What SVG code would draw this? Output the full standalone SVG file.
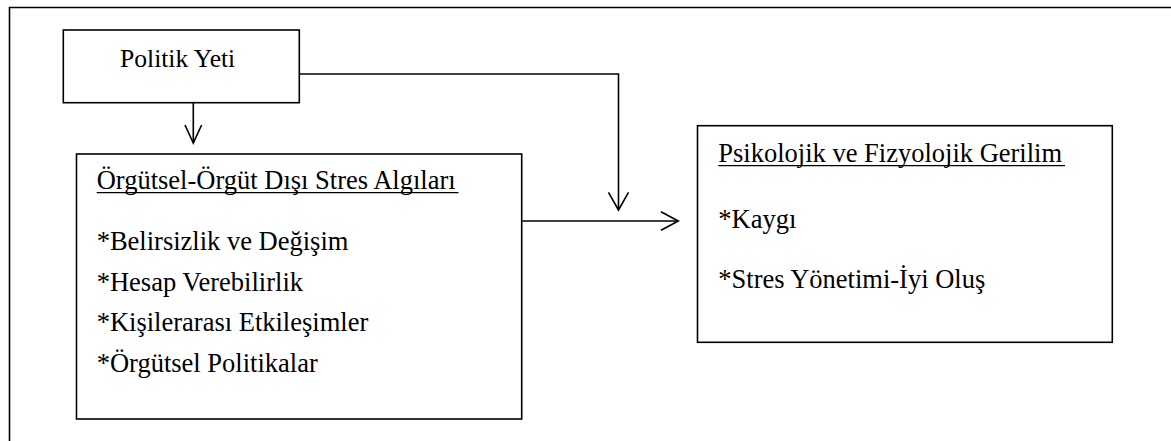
<svg xmlns="http://www.w3.org/2000/svg" width="1171" height="441" viewBox="0 0 1171 441">
  <style>
    .frame { fill: none; stroke: #000; stroke-width: 1.6; }
    .box { fill: #fff; stroke: #000; stroke-width: 1.6; }
    .ul { stroke: #000; stroke-width: 1.4; }
    .conn { fill: none; stroke: #000; stroke-width: 1.6; }
    .head { fill: none; stroke: #000; stroke-width: 1.6; stroke-linejoin: miter; }
  </style>

  <rect width="1171" height="441" fill="#fff"/>

  <!-- outer frame (right and bottom sides run past the canvas) -->
  <path class="frame" d="M1175,7.5 H9.5 V445"/>

  <g font-family="Liberation Serif, DejaVu Serif, serif" font-size="26.5" fill="#000">
    <g id="node-politik-yeti">
      <rect class="box" x="63.3" y="30" width="236" height="72.7"/>
      <text x="120" y="66.5" font-size="25.6">Politik Yeti</text>
    </g>

    <g id="node-stres-algilari">
      <rect class="box" x="76.5" y="154" width="445.2" height="265"/>
      <text x="96.7" y="189">Örgütsel-Örgüt Dışı Stres Algıları</text>
      <line class="ul" x1="96.7" y1="192.6" x2="458.5" y2="192.6"/>
      <text x="96.7" y="250">*Belirsizlik ve Değişim</text>
      <text x="96.7" y="290.5">*Hesap Verebilirlik</text>
      <text x="96.7" y="331">*Kişilerarası Etkileşimler</text>
      <text x="96.7" y="371.5">*Örgütsel Politikalar</text>
    </g>

    <g id="node-gerilim">
      <rect class="box" x="697.5" y="125.7" width="414.8" height="216.6"/>
      <text x="718.3" y="162">Psikolojik ve Fizyolojik Gerilim</text>
      <line class="ul" x1="718.3" y1="165.6" x2="1065" y2="165.6"/>
      <text x="718.3" y="227.5">*Kaygı</text>
      <text x="718.3" y="288">*Stres Yönetimi-İyi Oluş</text>
    </g>
  </g>

  <g id="connectors">
    <!-- Politik Yeti down to stress perceptions -->
    <line class="conn" x1="193.3" y1="102.7" x2="193.3" y2="143"/>
    <path class="head" d="M185,125 L193.3,143 L201.6,125"/>
    <!-- Politik Yeti across and down onto the main path -->
    <path class="conn" d="M299.3,74 H618.5 V210"/>
    <path class="head" d="M608.5,192.3 L618.5,210 L628.5,192.3"/>
    <!-- stress perceptions to strain -->
    <line class="conn" x1="521.7" y1="221" x2="678.3" y2="221"/>
    <path class="head" d="M661,211.7 L678.3,221 L661,230.3"/>
  </g>
</svg>
